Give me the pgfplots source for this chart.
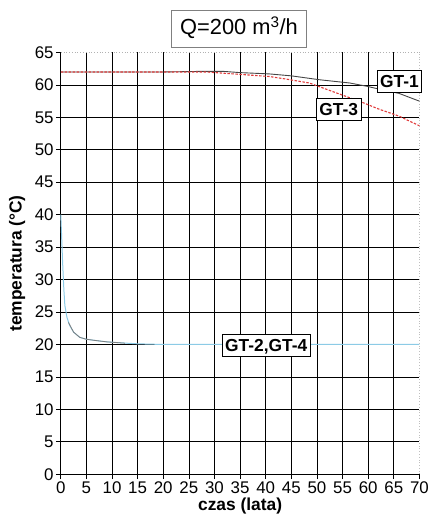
\documentclass[border=0pt]{standalone}
\usepackage{pgfplots}
\pgfplotsset{compat=1.18}
\usepackage{fontspec}
\setmainfont{Liberation Sans}
\definecolor{gtone}{HTML}{454545}
\definecolor{gtthree}{HTML}{E03A3A}
\definecolor{gttwo}{HTML}{8CCBE6}
\begin{document}
\begin{tikzpicture}
\begin{axis}[
  scale only axis,
  width=360bp, height=423.3bp,
  xmin=0, xmax=70, ymin=0, ymax=65,
  xtick={0,5,...,65}, ytick={0,5,...,60},
  extra x ticks={70}, extra y ticks={65},
  extra tick style={grid=none},
  grid=major,
  major grid style={black, line width=0.7pt},
  axis x line*=bottom, axis y line*=left,
  axis line style={black, line width=0.7pt},
  tick align=outside,
  major tick length=5bp,
  tick style={black, line width=0.7pt},
  /pgf/number format/assume math mode=true,
  ticklabel style={font=\fontsize{17}{17}\selectfont},
  xticklabel style={inner sep=2bp},
  yticklabel style={inner sep=2bp},
  xlabel={\textbf{czas (lata)}},
  ylabel={\textbf{temperatura (°C)}},
  label style={font=\fontsize{17.5}{17.5}\selectfont},
  xlabel style={at={(axis description cs:0.5,-0.085)}, anchor=base},
  ylabel style={at={(axis description cs:-0.122,0.5)}, anchor=center},
  clip=false,
]
\path (axis description cs:0,0) ++(-61bp,-41bp) (axis description cs:1,1) ++(9bp,52.7bp);
\draw[gray!60, dotted, line width=0.8pt] (axis cs:0,65) -- (axis cs:70,65);
\draw[gray!50, dotted, line width=0.8pt] (axis cs:70,0) -- (axis cs:70,65);
\addplot[gttwo, line width=1pt] coordinates {
 (0,40) (0.2,36) (0.35,32.8) (0.6,28.5) (0.8,26) (1.2,24.2) (1.75,22.9) (2.5,21.9) (3.7,21.1) (5,20.8) (6.9,20.6) (9,20.4) (12.8,20.2) (15,20.1) (20,20) (30,20) (40,20) (50,20) (60,20) (70,20)};
\addplot[gtone!70, line width=0.8pt] coordinates {
 (1.5,23.4) (2.5,21.9) (3.7,21.1) (5,20.8) (6.9,20.6) (9,20.4) (12.5,20.2)};
\addplot[gtone, line width=0.9pt] coordinates {
 (0,62) (10,62) (20,62) (28,62.1) (31.6,62.1) (35,61.9) (40.7,61.7) (45,61.4) (50.5,60.8) (56.4,60.3) (59.7,59.8) (63,59.2) (66,58.7) (70,57.5)};
\addplot[gtthree, line width=1.1pt, dash pattern=on 2.5pt off 1.5pt] coordinates {
 (0,62) (10,62) (20,62) (28.4,62) (35.5,61.6) (40.7,61.3) (44,60.9) (48.5,60.3) (53,59) (58.9,57.3) (62,56.3) (66,55.2) (70,53.7)};
\tikzset{gtlab/.style={draw=black, line width=0.7pt, fill=white, inner xsep=3bp, inner ysep=5bp, text height=12.5bp, text depth=0bp, font=\fontsize{17.5}{17.5}\selectfont\bfseries}}
\node[gtlab] at (axis cs:66.1,60.58) {GT-1};
\node[gtlab] at (axis cs:54.25,56.28) {GT-3};
\node[gtlab] at (axis cs:40.1,19.9) {GT-2,GT-4};
\node[draw=gray, line width=0.7pt, fill=white, inner xsep=8.5bp, inner ysep=9bp, text height=16bp, text depth=4bp, font=\fontsize{22}{22}\selectfont] at (axis description cs:0.497,1.056) {Q=200 m\textsuperscript{3}/h};
\end{axis}
\end{tikzpicture}
\end{document}
